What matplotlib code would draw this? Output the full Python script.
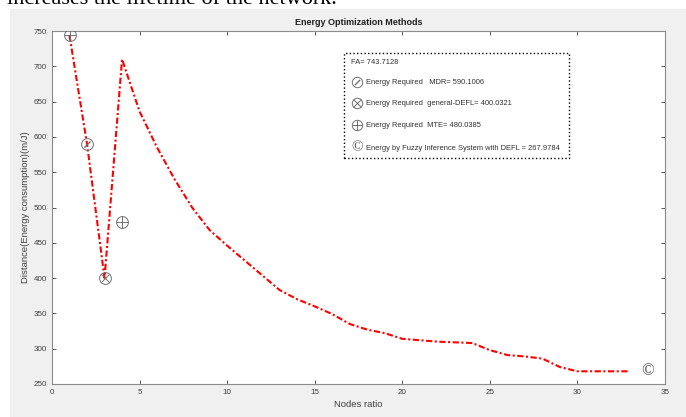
import matplotlib
matplotlib.use("Agg")
import matplotlib.pyplot as plt
from matplotlib.patches import Rectangle

plt.rcParams['font.family'] = ['Liberation Sans', 'DejaVu Sans']

# data
nodes = list(range(1, 34))
energy = [743.7, 590, 400, 710, 636, 585, 540, 500, 468, 446, 425, 404, 383,
          370, 360, 349, 335, 327, 322, 314, 312, 310, 309, 308, 298, 291,
          289, 286, 274, 268, 268, 268, 268]

# circled markers: (x, y, inner mark)
marker_x = [1, 2, 3, 4]
marker_y = [743.7128, 590.1006, 400.0321, 480.0385]
marker_inner = ['plus', 'slash', 'cross', 'plus']
fis_x, fis_y = 34, 267.9784

legend_lines = ['FA= 743.7128',
                'Energy Required   MDR= 590.1006',
                'Energy Required  general-DEFL= 400.0321',
                'Energy Required  MTE= 480.0385',
                'Energy by Fuzzy Inference System with DEFL = 267.9784']
legend_inner = [None, 'slash', 'cross', 'plus', 'copy']

# inner mark style, size relative to the circle
inner_style = {'plus': ('+', 1.0),
               'cross': ('x', 0.7),
               'slash': ((2, 2, -45), 0.7)}

W, H = 686, 417
fig = plt.figure(figsize=(W / 100, H / 100), dpi=100)
fig.patch.set_facecolor('white')

# grey MATLAB figure area
fig.add_artist(Rectangle((10 / W, 0), 1 - 10 / W, 1 - 9 / H,
                         transform=fig.transFigure, color='#f0f0f0', zorder=0))
# cut-off caption text from the page above
fig.text(7 / W, 1 - 4 / H, 'increases the lifetime of the network.',
         family='Liberation Serif', fontsize=16, va='baseline', ha='left')

ax = fig.add_axes([52 / W, 1 - 384 / H, 613 / W, 353 / H])
ax.set_facecolor('white')
ax.plot(nodes, energy, color='red', lw=1.5, linestyle=(0, (3, 1.2, 1, 1.2)))


def circled(x, y, kind, size=8.5, **kw):
    ax.plot([x], [y], marker='o', ms=size, mfc='none', mec='#707070',
            mew=0.7, ls='none', zorder=4, **kw)
    m, f = inner_style[kind]
    ax.plot([x], [y], marker=m, ms=size * f, mec='#707070', mew=0.7,
            ls='none', zorder=4, **kw)


for x, y, k in zip(marker_x, marker_y, marker_inner):
    circled(x, y, k)
ax.text(fis_x, fis_y, '\u00a9', fontsize=12, color='#555555', ha='center',
        va='center', family='Liberation Serif')

ax.set_xlim(0, 35)
ax.set_ylim(250, 750)
ax.set_xticks(range(0, 36, 5))
ax.set_yticks(range(250, 751, 50))
ax.tick_params(direction='in', top=True, right=True, labelsize=5.8,
               colors='#404040', length=3, width=0.6)
for sp in ax.spines.values():
    sp.set_color('#8c8c8c')
    sp.set_linewidth(0.8)

ax.set_title('Energy Optimization Methods', fontsize=6.5, fontweight='bold',
             pad=4, color='#202020')
ax.set_xlabel('Nodes ratio', fontsize=6.8, color='#404040', labelpad=3)
ax.set_ylabel('Distance(Energy consumption)(m/J)', fontsize=6.8,
              color='#404040', labelpad=3)

# legend-style annotation box
bx0, bx1 = (344 - 52) / 613, (569 - 52) / 613
by1, by0 = 1 - (53 - 31) / 353, 1 - (158 - 31) / 353
ax.add_patch(Rectangle((bx0, by0), bx1 - bx0, by1 - by0, transform=ax.transAxes,
                       fill=False, ls=':', lw=1.0, ec='black', zorder=5))
row_y = [62, 82, 103, 125, 148]
for yy, txt, k in zip(row_y, legend_lines, legend_inner):
    ty = 1 - (yy - 31) / 353
    if k is None:
        ax.text((351 - 52) / 613, ty, txt, transform=ax.transAxes, fontsize=5.4,
                color='#303030', ha='left', va='center')
        continue
    mx = (357 - 52) / 613
    if k == 'copy':
        ax.text(mx, ty, '\u00a9', transform=ax.transAxes, fontsize=11,
                color='#555555', ha='center', va='center',
                family='Liberation Serif')
    else:
        circled(mx, ty, k, size=7.5, transform=ax.transAxes)
    ax.text((366 - 52) / 613, ty, txt, transform=ax.transAxes, fontsize=5.4,
            color='#303030', ha='left', va='center')

fig.savefig('out.png', dpi=100)
